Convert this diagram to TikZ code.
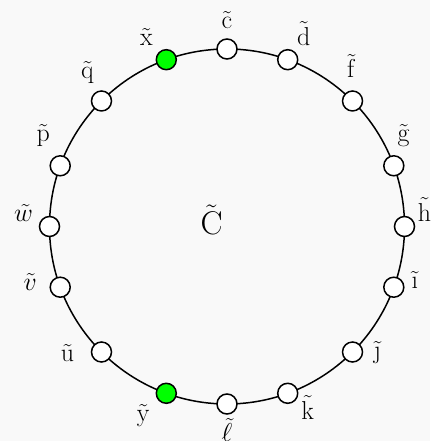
\RequirePackage{fix-cm}
\documentclass[tikz,border=0pt]{standalone}
\usetikzlibrary{calc}
\definecolor{bgc}{RGB}{249,249,249}
\tikzset{
  vtx/.style={circle,draw=black,line width=1.5bp,fill=white,minimum size=20bp,inner sep=0pt},
  gvtx/.style={vtx,fill=green},
  lbl/.style={inner sep=0pt,font=\fontsize{26}{30}\selectfont},
  rim/.style={line width=1.5bp}
}
\begin{document}
\begin{tikzpicture}[x=1bp,y=1bp]
\fill[bgc] (0,0) rectangle (430,441);
\useasboundingbox (0,0) rectangle (430,441);
\coordinate (O) at (227,214.5);
\draw[rim] (O) circle (177.5);
\node[lbl,font=\fontsize{33}{40}\selectfont] (Ct) at (211.5,221.5) {$\tilde{\mathrm{C}}$};
% vertices
\node[vtx]  (c) at ($(O)+(90:177.5)$) {};
\node[vtx]  (d) at ($(O)+(70:177.5)$) {};
\node[vtx]  (f) at ($(O)+(45:177.5)$) {};
\node[vtx]  (g) at ($(O)+(20:177.5)$) {};
\node[vtx]  (h) at ($(O)+(0:177.5)$) {};
\node[vtx]  (i) at ($(O)+(-20:177.5)$) {};
\node[vtx]  (j) at ($(O)+(-45:177.5)$) {};
\node[vtx]  (k) at ($(O)+(-70:177.5)$) {};
\node[vtx]  (l) at ($(O)+(-90:177.5)$) {};
\node[gvtx] (y) at ($(O)+(-110:177.5)$) {};
\node[vtx]  (u) at ($(O)+(-135:177.5)$) {};
\node[vtx]  (v) at ($(O)+(-160:177.5)$) {};
\node[vtx]  (w) at ($(O)+(180:177.5)$) {};
\node[vtx]  (p) at ($(O)+(160:177.5)$) {};
\node[vtx]  (q) at ($(O)+(135:177.5)$) {};
\node[gvtx] (x) at ($(O)+(110:177.5)$) {};
% labels
\node[lbl] (lc) at ($(c)+(0,29)$)   {$\tilde{\mathrm{c}}$};
\node[lbl] (ld) at ($(d)+(16,26)$)  {$\tilde{\mathrm{d}}$};
\node[lbl] (lf) at ($(f)+(-1,35)$)  {$\tilde{\mathrm{f}}$};
\node[lbl] (lg) at ($(g)+(10,30)$)  {$\tilde{\mathrm{g}}$};
\node[lbl] (lh) at ($(h)+(20,17)$)  {$\tilde{\mathrm{h}}$};
\node[lbl] (li) at ($(i)+(21,7)$)   {$\tilde{\mbox{\i}}$};
\node[lbl] (lj) at ($(j)+(25,-1)$)  {$\tilde{\mbox{\j}}$};
\node[lbl] (lk) at ($(k)+(20,-14)$) {$\tilde{\mathrm{k}}$};
\node[lbl] (ll) at ($(l)+(0,-26)$)  {$\tilde{\ell}$};
\node[lbl] (ly) at ($(y)+(-23,-22)$) {$\tilde{\mathrm{y}}$};
\node[lbl] (lu) at ($(u)+(-34,-1)$) {$\tilde{\mathrm{u}}$};
\node[lbl] (lv) at ($(v)+(-30,5)$)  {$\tilde{v}$};
\node[lbl] (lw) at ($(w)+(-26,13)$) {$\tilde{w}$};
\node[lbl] (lp) at ($(p)+(-17,30)$) {$\tilde{\mathrm{p}}$};
\node[lbl] (lq) at ($(q)+(-14,28)$) {$\tilde{\mathrm{q}}$};
\node[lbl] (lx) at ($(x)+(-20,23)$) {$\tilde{\mathrm{x}}$};
\end{tikzpicture}
\end{document}
